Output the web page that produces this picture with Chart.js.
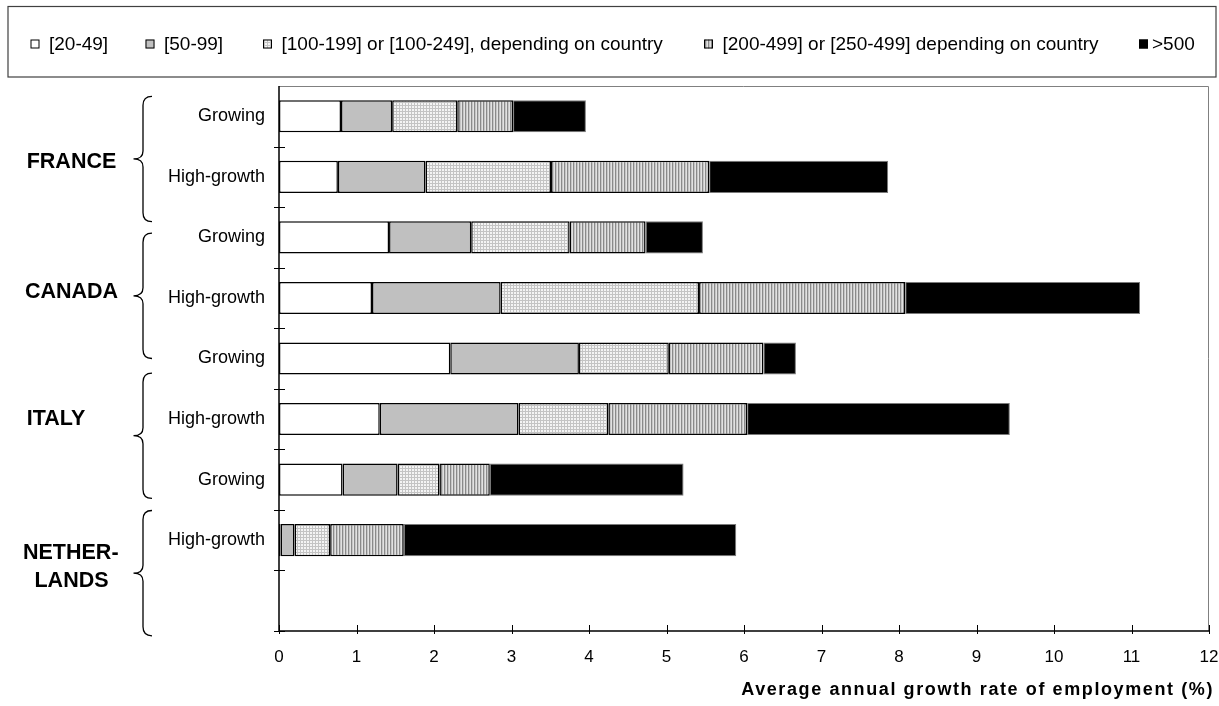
<!DOCTYPE html>
<html>
<head>
<meta charset="utf-8">
<title>Employment growth by firm size</title>
<script src="https://cdn.jsdelivr.net/npm/chart.js@4.4.1/dist/chart.umd.min.js"></script>
<style>
  html, body { margin: 0; padding: 0; background: #ffffff; }
  canvas { display: block; }
</style>
</head>
<body>
<canvas id="chart" width="1219" height="706"></canvas>
<script>
// ---- data -------------------------------------------------------------
const categories = ['Growing', 'High-growth', 'Growing', 'High-growth', 'Growing', 'High-growth', 'Growing', 'High-growth', ''];
const countries = [['FRANCE'], ['CANADA'], ['ITALY'], ['NETHER-', 'LANDS']];
const sizeClasses = ['[20-49]', '[50-99]', '[100-199] or [100-249], depending on country', '[200-499] or [250-499] depending on country', '>500'];

// contribution of each size class to the average annual growth rate (%)
const size20to49   = [0.80, 0.76, 1.42, 1.20, 2.21, 1.30, 0.82, 0.02, null];
const size50to99   = [0.66, 1.13, 1.06, 1.66, 1.66, 1.79, 0.71, 0.18, null];
const size100to249 = [0.84, 1.62, 1.27, 2.56, 1.16, 1.16, 0.54, 0.46, null];
const size200to499 = [0.72, 2.04, 0.98, 2.66, 1.22, 1.79, 0.65, 0.95, null];
const size500plus  = [0.94, 2.31, 0.74, 3.03, 0.42, 3.39, 2.50, 4.29, null];

const xTickValues = [0, 1, 2, 3, 4, 5, 6, 7, 8, 9, 10, 11, 12];
const axisTitle = 'Average annual growth rate of employment (%)';

// ---- layout (in category-slot units / pixels) ---------------------------
const braceStarts = [0.17, 2.43, 4.74, 7.01];
const braceSpan = 2.07;
const countryLabelRows = [[1.215], [3.36], [5.46], [7.67, 8.14]];
const countryLabelCenters = [71.5, 71.5, 56, 71.5];
const legendSquareX = [30.5, 145.5, 263, 704, 1139];

const FONT = '"Liberation Sans", Arial, Helvetica, sans-serif';
Chart.defaults.font.family = FONT;
Chart.defaults.color = '#000';

// ---- fill patterns ----------------------------------------------------
function makePattern(w, h, painter) {
  const c = document.createElement('canvas');
  c.width = w; c.height = h;
  const g = c.getContext('2d');
  painter(g);
  return g.createPattern(c, 'repeat');
}
const meshFill = makePattern(3, 3, g => {
  g.fillStyle = '#f4f4f4'; g.fillRect(0, 0, 3, 3);
  g.fillStyle = '#c4c4c4'; g.fillRect(0, 0, 3, 1); g.fillRect(0, 0, 1, 3);
});
const stripeFill = makePattern(3, 3, g => {
  g.fillStyle = '#e2e2e2'; g.fillRect(0, 0, 3, 3);
  g.fillStyle = '#8a8a8a'; g.fillRect(0, 0, 1, 3);
  g.fillStyle = '#c6c6c6'; g.fillRect(1, 0, 1, 3);
});
const fills = ['#ffffff', '#c0c0c0', meshFill, stripeFill, '#000000'];
const seriesData = [size20to49, size50to99, size100to249, size200to499, size500plus];

// ---- decorations: legend box, braces, country names, ticks, frame -------
const decorations = {
  id: 'decorations',
  afterDatasetsDraw(chart) {
    const ctx = chart.ctx;
    const area = chart.chartArea;
    const x = chart.scales.x;
    const slot = (area.bottom - area.top) / categories.length;
    ctx.save();
    // plot frame (top and right)
    ctx.strokeStyle = '#808080';
    ctx.lineWidth = 1;
    ctx.beginPath();
    ctx.moveTo(area.left, area.top + 0.5);
    ctx.lineTo(area.right - 0.5, area.top + 0.5);
    ctx.lineTo(area.right - 0.5, area.bottom);
    ctx.stroke();
    // axis lines
    ctx.strokeStyle = '#000';
    ctx.lineWidth = 1.5;
    ctx.beginPath();
    ctx.moveTo(area.left, area.top);
    ctx.lineTo(area.left, area.bottom);
    ctx.lineTo(area.right, area.bottom);
    ctx.stroke();
    // tick marks crossing the axes
    ctx.lineWidth = 1;
    ctx.beginPath();
    for (let k = 1; k <= categories.length; k++) {
      const y = Math.round(area.top + k * slot) + 0.5;
      ctx.moveTo(area.left - 5, y);
      ctx.lineTo(area.left + 6, y);
    }
    xTickValues.forEach(v => {
      const px = Math.round(x.getPixelForValue(v)) + 0.5;
      ctx.moveTo(px, area.bottom - 6);
      ctx.lineTo(px, area.bottom + 3);
    });
    ctx.stroke();
    ctx.restore();
  },
  afterDraw(chart) {
    const ctx = chart.ctx;
    const area = chart.chartArea;
    const slot = (area.bottom - area.top) / categories.length;
    ctx.save();

    // legend box
    ctx.strokeStyle = '#404040';
    ctx.lineWidth = 1.2;
    ctx.strokeRect(8, 6.5, 1208, 70.5);
    ctx.font = '19px ' + FONT;
    ctx.textBaseline = 'middle';
    ctx.textAlign = 'left';
    sizeClasses.forEach((label, i) => {
      const sx = legendSquareX[i];
      ctx.fillStyle = fills[i];
      ctx.fillRect(sx, 39.5, 9, 9);
      ctx.strokeStyle = '#000';
      ctx.lineWidth = 1;
      ctx.strokeRect(sx + 0.5, 40, 8, 8);
      ctx.fillStyle = '#000';
      ctx.fillText(label, sx + (i === 4 ? 13 : 18.5), 44.5);
    });

    // braces grouping the rows by country
    ctx.strokeStyle = '#000';
    ctx.lineWidth = 1.3;
    braceStarts.forEach(s => {
      const y0 = area.top + s * slot;
      const y1 = y0 + braceSpan * slot;
      const ym = (y0 + y1) / 2;
      const xr = 152, xv = 143, xt = 133.5;
      ctx.beginPath();
      ctx.moveTo(xr, y0);
      ctx.quadraticCurveTo(xv, y0, xv, y0 + 9);
      ctx.lineTo(xv, ym - 8);
      ctx.quadraticCurveTo(xv, ym, xt, ym);
      ctx.quadraticCurveTo(xv, ym, xv, ym + 8);
      ctx.lineTo(xv, y1 - 9);
      ctx.quadraticCurveTo(xv, y1, xr, y1);
      ctx.stroke();
    });

    // country names
    ctx.font = 'bold 21.5px ' + FONT;
    ctx.fillStyle = '#000';
    ctx.textBaseline = 'middle';
    countries.forEach((lines, i) => {
      lines.forEach((line, j) => {
        const y = area.top + countryLabelRows[i][j] * slot + 2.5;
        if (i === 3 && j === 0) {
          ctx.textAlign = 'left';
          ctx.fillText(line, 23, y);
        } else {
          ctx.textAlign = 'center';
          ctx.fillText(line, countryLabelCenters[i], y);
        }
      });
    });

    // x axis title
    ctx.font = 'bold 18px ' + FONT;
    ctx.textAlign = 'right';
    if ('letterSpacing' in ctx) ctx.letterSpacing = '1.6px';
    ctx.fillText(axisTitle, 1214, 690);
    ctx.restore();
  }
};

// ---- chart ------------------------------------------------------------
new Chart(document.getElementById('chart'), {
  type: 'bar',
  data: {
    labels: categories,
    datasets: sizeClasses.map((label, i) => ({
      label,
      data: seriesData[i],
      backgroundColor: fills[i],
      borderColor: i === 4 ? '#7a7a7a' : '#000000',
      borderWidth: i === 4 ? 1 : 1.5,
      borderSkipped: false,
      categoryPercentage: 1,
      barPercentage: 0.53
    }))
  },
  options: {
    indexAxis: 'y',
    responsive: false,
    animation: false,
    devicePixelRatio: 1,
    layout: { padding: { top: 86, right: 10, left: 0, bottom: 0 } },
    plugins: {
      legend: { display: false },
      tooltip: { enabled: false }
    },
    scales: {
      x: {
        stacked: true,
        min: 0,
        max: 12,
        afterBuildTicks: s => { s.ticks = xTickValues.map(v => ({ value: v })); },
        afterFit: s => { s.height = 75; s.paddingLeft = 0; s.paddingRight = 0; },
        grid: { display: false, drawTicks: false },
        border: { display: false },
        ticks: { font: { size: 17 }, color: '#000', padding: 16, maxRotation: 0 }
      },
      y: {
        stacked: true,
        afterFit: s => { s.width = 279; s.paddingTop = 0; s.paddingBottom = 0; },
        grid: { display: false, drawTicks: false },
        border: { display: false },
        ticks: { font: { size: 18 }, color: '#000', padding: 14 }
      }
    }
  },
  plugins: [decorations]
});
</script>
</body>
</html>
